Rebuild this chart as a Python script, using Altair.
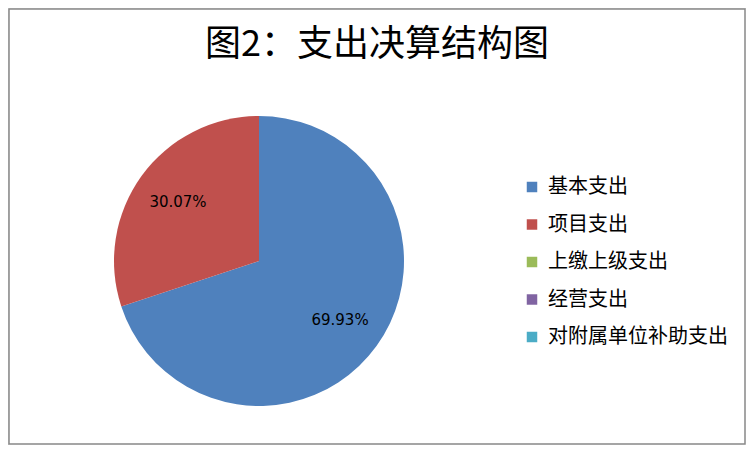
import altair as alt
import pandas as pd

categories = ["基本支出", "项目支出", "上缴上级支出", "经营支出", "对附属单位补助支出"]
values = [69.93, 30.07, 0.0, 0.0, 0.0]
labels = ["69.93%", "30.07%", "", "", ""]
colors = ["#4F81BD", "#C0504D", "#9BBB59", "#8064A2", "#4BACC6"]
title_text = "图2：支出决算结构图"

df = pd.DataFrame({
    "cat": categories,
    "value": values,
    "label": labels,
    "idx": list(range(len(categories))),
})

W, H = 738, 437
CX, CY, R = 251, 253, 145

base = alt.Chart(df).encode(
    theta=alt.Theta("value:Q", stack=True),
    order=alt.Order("idx:O"),
    x=alt.value(CX),
    y=alt.value(CY),
)

pie = base.mark_arc(radius=R).encode(
    color=alt.Color(
        "cat:N",
        sort=None,
        scale=alt.Scale(domain=categories, range=colors),
        legend=alt.Legend(
            title=None,
            orient="none",
            legendX=514,
            legendY=169,
            symbolType="square",
            symbolSize=110,
            symbolStrokeWidth=0,
            labelFont="Noto Sans CJK SC",
            labelFontSize=20,
            labelColor="#000000",
            labelOffset=6,
            rowPadding=17.5,
            labelLimit=400,
        ),
    )
)

text = base.mark_text(radius=100, font="DejaVu Sans", fontSize=15, color="#000000").encode(
    text="label:N"
).transform_filter("datum.value > 0")

title = alt.Chart(pd.DataFrame({"t": [title_text]})).mark_text(
    font="Noto Sans CJK SC", fontSize=36, color="#000000", baseline="middle", align="center"
).encode(text="t:N", x=alt.value(W / 2), y=alt.value(37))

border = alt.Chart(pd.DataFrame({"b": [0]})).mark_rect(
    fill=None, fillOpacity=0, stroke="#888888", strokeWidth=1.5
).encode(x=alt.value(1), x2=alt.value(W - 1), y=alt.value(1), y2=alt.value(H - 1))

chart = alt.layer(border, pie, text, title).properties(
    width=W, height=H, padding=0
).configure_view(stroke=None).configure(background="white")

chart.save("out.html", embed_options={"renderer": "svg", "actions": False})
